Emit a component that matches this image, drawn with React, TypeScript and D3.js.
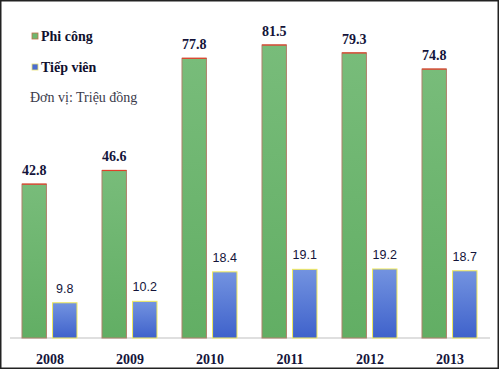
import React, { useEffect, useRef } from "react";
import * as d3 from "d3";

const years = ["2008", "2009", "2010", "2011", "2012", "2013"];
const phiCong = [42.8, 46.6, 77.8, 81.5, 79.3, 74.8];
const tiepVien = [9.8, 10.2, 18.4, 19.1, 19.2, 18.7];
const seriesNames = ["Phi công", "Tiếp viên"];

export default function App() {
  const ref = useRef<SVGSVGElement>(null);

  useEffect(() => {
    const svg = d3.select(ref.current);
    svg.selectAll("*").remove();

    const width = 500,
      height = 370;
    const baseY = 338;

    // gradients
    const defs = svg.append("defs");
    const gGreen = defs
      .append("linearGradient")
      .attr("id", "gGreen")
      .attr("x1", 0)
      .attr("x2", 0)
      .attr("y1", 0)
      .attr("y2", 1);
    gGreen.append("stop").attr("offset", "0%").attr("stop-color", "#78bc7a");
    gGreen.append("stop").attr("offset", "100%").attr("stop-color", "#62ae64");
    const gBlue = defs
      .append("linearGradient")
      .attr("id", "gBlue")
      .attr("x1", 0)
      .attr("x2", 0)
      .attr("y1", 0)
      .attr("y2", 1);
    gBlue.append("stop").attr("offset", "0%").attr("stop-color", "#7393e0");
    gBlue.append("stop").attr("offset", "100%").attr("stop-color", "#3f62cb");

    svg
      .append("rect")
      .attr("x", 0)
      .attr("y", 0)
      .attr("width", width)
      .attr("height", height)
      .attr("fill", "#fff");

    const x0 = d3.scaleBand().domain(years).range([10, 490]);
    const x1 = d3
      .scaleBand()
      .domain(seriesNames)
      .range([12, 67])
      .paddingInner(0.2);
    const y = d3.scaleLinear().domain([0, 81.5]).range([baseY, 45]);

    // baseline
    svg
      .append("line")
      .attr("x1", 10)
      .attr("x2", 490)
      .attr("y1", baseY)
      .attr("y2", baseY)
      .attr("stroke", "#d4d4d4")
      .attr("stroke-width", 1.5);

    const groups = svg
      .selectAll("g.year")
      .data(years)
      .enter()
      .append("g")
      .attr("class", "year")
      .attr("transform", (d) => "translate(" + x0(d) + ",0)");

    // green bars
    groups
      .append("rect")
      .attr("x", x1(seriesNames[0])!)
      .attr("y", (d, i) => y(phiCong[i]))
      .attr("width", x1.bandwidth())
      .attr("height", (d, i) => baseY - y(phiCong[i]))
      .attr("fill", "url(#gGreen)")
      .attr("stroke", "#b0806a")
      .attr("stroke-width", 1);
    groups
      .append("line")
      .attr("x1", x1(seriesNames[0])!)
      .attr("x2", x1(seriesNames[0])! + x1.bandwidth())
      .attr("y1", (d, i) => y(phiCong[i]))
      .attr("y2", (d, i) => y(phiCong[i]))
      .attr("stroke", "#e0402a")
      .attr("stroke-width", 1.2);

    // blue bars
    groups
      .append("rect")
      .attr("x", x1(seriesNames[1])!)
      .attr("y", (d, i) => y(tiepVien[i]))
      .attr("width", x1.bandwidth())
      .attr("height", (d, i) => baseY - y(tiepVien[i]))
      .attr("fill", "url(#gBlue)")
      .attr("stroke", "#f2ea5a")
      .attr("stroke-width", 1);

    // value labels
    groups
      .append("text")
      .attr("x", x1(seriesNames[0])! + x1.bandwidth() / 2)
      .attr("y", (d, i) => y(phiCong[i]) - 9)
      .attr("text-anchor", "middle")
      .attr("font-family", "Liberation Serif")
      .attr("font-weight", "bold")
      .attr("font-size", 14)
      .attr("fill", "#14143a")
      .text((d, i) => phiCong[i].toFixed(1));
    groups
      .append("text")
      .attr("x", x1(seriesNames[1])! + x1.bandwidth() / 2)
      .attr("y", (d, i) => y(tiepVien[i]) - 10)
      .attr("text-anchor", "middle")
      .attr("font-family", "Liberation Sans")
      .attr("font-size", 12.5)
      .attr("fill", "#14143a")
      .text((d, i) => tiepVien[i].toFixed(1));

    // year labels
    groups
      .append("text")
      .attr("x", x0.bandwidth() / 2)
      .attr("y", 364)
      .attr("text-anchor", "middle")
      .attr("font-family", "Liberation Serif")
      .attr("font-weight", "bold")
      .attr("font-size", 14)
      .attr("fill", "#14143a")
      .text((d) => d);

    // legend
    const legendColors = ["#6fb76f", "#4a6cd0"];
    const legendBorders = ["#c0704a", "#e8e070"];
    const legend = svg
      .selectAll("g.legend")
      .data(seriesNames)
      .enter()
      .append("g")
      .attr("class", "legend")
      .attr("transform", (d, i) => "translate(32," + (36 + i * 31) + ")");
    legend
      .append("rect")
      .attr("x", 0)
      .attr("y", -3)
      .attr("width", 6)
      .attr("height", 6)
      .attr("fill", (d, i) => legendColors[i])
      .attr("stroke", (d, i) => legendBorders[i])
      .attr("stroke-width", 0.8);
    legend
      .append("text")
      .attr("x", 9)
      .attr("y", 5)
      .attr("font-family", "Liberation Serif")
      .attr("font-weight", "bold")
      .attr("font-size", 14)
      .attr("fill", "#10102e")
      .text((d) => d);

    svg
      .append("text")
      .attr("x", 30)
      .attr("y", 102)
      .attr("font-family", "Liberation Serif")
      .attr("font-size", 14)
      .attr("fill", "#3a3a4a")
      .text("Đơn vị: Triệu đồng");

    // frame
    svg
      .append("rect")
      .attr("x", 0.75)
      .attr("y", 0.75)
      .attr("width", width - 2.5)
      .attr("height", height - 2.5)
      .attr("fill", "none")
      .attr("stroke", "#222")
      .attr("stroke-width", 1.5);
  }, []);

  return (
    <svg
      ref={ref}
      width={500}
      height={370}
      style={{ position: "absolute", left: 0, top: 0 }}
    />
  );
}
